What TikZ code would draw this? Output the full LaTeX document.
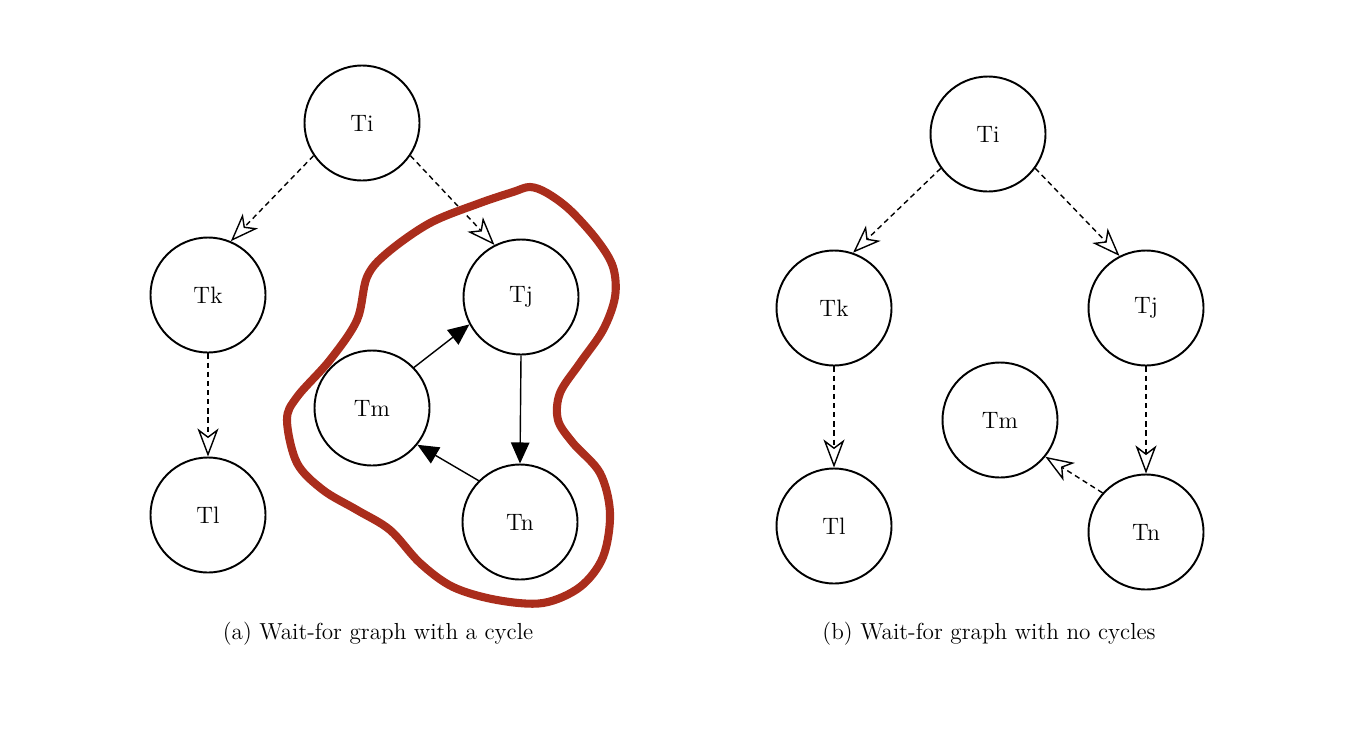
\documentclass[tikz,border=0pt]{standalone}
\usetikzlibrary{arrows.meta}
\definecolor{cyclered}{RGB}{170,45,28}
\tikzstyle{txn} = [draw,circle,line width=1.1pt,minimum size=2.3cm,inner sep=0pt,font=\fontsize{13.5}{13.5}\selectfont]
\tikzstyle{waits} = [line width=0.8pt,dash pattern=on 3pt off 2.2pt,-{Stealth[open,length=16pt,width=12pt,inset=4.5pt,line width=0.8pt]}]
\tikzstyle{holds} = [line width=0.8pt,-{Triangle[length=12pt,width=10.5pt]}]
\tikzstyle{loopmark} = [draw=cyclered,line width=4.6pt,line join=round]
\tikzstyle{caption} = [font=\fontsize{13.2}{15}\selectfont]

\begin{document}
\begin{tikzpicture}[x=0.02cm,y=-0.02cm]
\useasboundingbox (0,0) rectangle (1372,754);

% (a) with a cycle
\node[txn] at (362,123) (ai) {Ti};
\node[txn] at (208,295) (ak) {Tk};
\node[txn] at (208,515) (al) {Tl};
\node[txn] at (521,297) (aj) {Tj};
\node[txn] at (372,408) (am) {Tm};
\node[txn] at (520,522) (an) {Tn};

\draw[waits] (ai.214) -- (ak.67);
\draw[waits] (ai.326) -- (aj.117);
\draw[waits] (ak.south) -- (al.north);
\draw[holds] (am.44) -- (aj.208);
\draw[holds] (aj.south) -- (an.north);
\draw[holds] (an.135) -- (am.321);

\draw[loopmark] plot[smooth cycle, tension=0.55] coordinates {
	(530,187) (547,193) (570,210) (597,240) (613,267) (615,297) (603,330)
	(580,363) (560,393) (558,420) (573,443) (600,473) (610,513) (603,557)
	(580,587) (543,603) (497,600) (453,587) (420,563) (390,530) (357,510)
	(323,490) (297,463) (287,420) (297,397) (330,360) (357,320) (367,277)
	(387,253) (430,223) (480,203) (513,192)};

\node[caption] at (378,634) (capa) {(a) Wait-for graph with a cycle};

% (b) with no cycles
\node[txn] at (988,134) (bi) {Ti};
\node[txn] at (834,308) (bk) {Tk};
\node[txn] at (834,526) (bl) {Tl};
\node[txn] at (1146,308) (bj) {Tj};
\node[txn] at (1000,420) (bm) {Tm};
\node[txn] at (1146,532) (bn) {Tn};

\draw[waits] (bi.216) -- (bk.71);
\draw[waits] (bi.324) -- (bj.117);
\draw[waits] (bk.south) -- (bl.north);
\draw[waits] (bj.south) -- (bn.north);
\draw[waits] (bn.138) -- (bm.321);

\node[caption] at (989,634) (capb) {(b) Wait-for graph with no cycles};
\end{tikzpicture}
\end{document}
